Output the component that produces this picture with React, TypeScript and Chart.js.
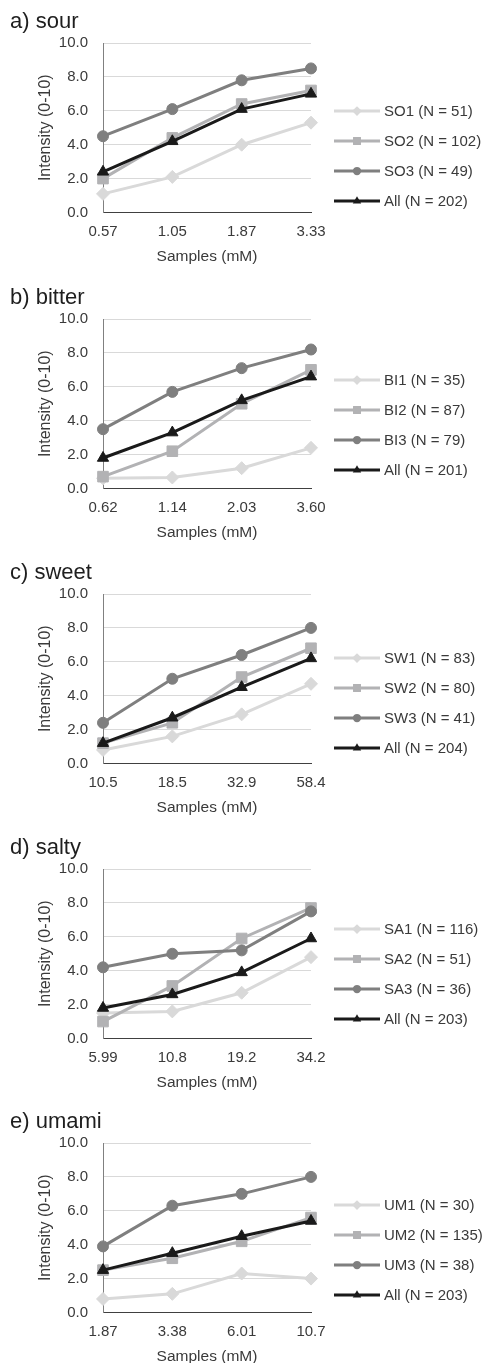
import React, { useEffect, useRef } from "react";
import { Chart, registerables } from "chart.js";

Chart.register(...registerables);

// ---- data ----
const sourDoses = ["0.57", "1.05", "1.87", "3.33"];
const sourLabels = ["SO1 (N = 51)", "SO2 (N = 102)", "SO3 (N = 49)", "All (N = 202)"];
const sourSO1 = [1.1, 2.1, 4.0, 5.3];
const sourSO2 = [2.0, 4.4, 6.4, 7.2];
const sourSO3 = [4.5, 6.1, 7.8, 8.5];
const sourAll = [2.4, 4.2, 6.1, 7.0];

const bitterDoses = ["0.62", "1.14", "2.03", "3.60"];
const bitterLabels = ["BI1 (N = 35)", "BI2 (N = 87)", "BI3 (N = 79)", "All (N = 201)"];
const bitterBI1 = [0.6, 0.65, 1.2, 2.4];
const bitterBI2 = [0.7, 2.2, 5.0, 7.0];
const bitterBI3 = [3.5, 5.7, 7.1, 8.2];
const bitterAll = [1.8, 3.3, 5.2, 6.6];

const sweetDoses = ["10.5", "18.5", "32.9", "58.4"];
const sweetLabels = ["SW1 (N = 83)", "SW2 (N = 80)", "SW3 (N = 41)", "All (N = 204)"];
const sweetSW1 = [0.8, 1.6, 2.9, 4.7];
const sweetSW2 = [1.2, 2.4, 5.1, 6.8];
const sweetSW3 = [2.4, 5.0, 6.4, 8.0];
const sweetAll = [1.2, 2.7, 4.5, 6.2];

const saltyDoses = ["5.99", "10.8", "19.2", "34.2"];
const saltyLabels = ["SA1 (N = 116)", "SA2 (N = 51)", "SA3 (N = 36)", "All (N = 203)"];
const saltySA1 = [1.5, 1.6, 2.7, 4.8];
const saltySA2 = [1.0, 3.1, 5.9, 7.7];
const saltySA3 = [4.2, 5.0, 5.2, 7.5];
const saltyAll = [1.8, 2.6, 3.9, 5.9];

const umamiDoses = ["1.87", "3.38", "6.01", "10.7"];
const umamiLabels = ["UM1 (N = 30)", "UM2 (N = 135)", "UM3 (N = 38)", "All (N = 203)"];
const umamiUM1 = [0.8, 1.1, 2.3, 2.0];
const umamiUM2 = [2.5, 3.2, 4.2, 5.6];
const umamiUM3 = [3.9, 6.3, 7.0, 8.0];
const umamiAll = [2.5, 3.5, 4.5, 5.4];

const panelTitles = ["a) sour", "b) bitter", "c) sweet", "d) salty", "e) umami"];
const xAxisTitle = "Samples (mM)";
const yAxisTitle = "Intensity (0-10)";
const yTicks = [0, 2, 4, 6, 8, 10];

type PanelSpec = {
  title: string;
  doses: string[];
  labels: string[];
  values: number[][];
};

const panels: PanelSpec[] = [
  { title: panelTitles[0], doses: sourDoses, labels: sourLabels, values: [sourSO1, sourSO2, sourSO3, sourAll] },
  { title: panelTitles[1], doses: bitterDoses, labels: bitterLabels, values: [bitterBI1, bitterBI2, bitterBI3, bitterAll] },
  { title: panelTitles[2], doses: sweetDoses, labels: sweetLabels, values: [sweetSW1, sweetSW2, sweetSW3, sweetAll] },
  { title: panelTitles[3], doses: saltyDoses, labels: saltyLabels, values: [saltySA1, saltySA2, saltySA3, saltyAll] },
  { title: panelTitles[4], doses: umamiDoses, labels: umamiLabels, values: [umamiUM1, umamiUM2, umamiUM3, umamiAll] },
];

// ---- styling / layout ----
const FONT = '"Liberation Sans", Arial, Helvetica, sans-serif';
const TEXT = "#3a3a3a";

type SeriesStyle = { color: string; point: "rectRot" | "rect" | "circle" | "triangle"; radius: number };
const seriesStyles: SeriesStyle[] = [
  { color: "#d9d9d9", point: "rectRot", radius: 6.5 },
  { color: "#b2b2b4", point: "rect", radius: 7.5 },
  { color: "#7f7f7f", point: "circle", radius: 5.5 },
  { color: "#1a1a1a", point: "triangle", radius: 6.5 },
];

const panelHeights = [276, 275, 275, 274, 275];
const legendTops = [68, 61, 64, 60, 62];

const PLOT_TOP = 43;
const PLOT_HEIGHT = 169.5;
const PLOT_LEFT = 103;
const PLOT_RIGHT = 311;
const PAD_LEFT = 30;
const CANVAS_W = 487;

function drawMarker(ctx: CanvasRenderingContext2D, kind: string, x: number, y: number, r: number) {
  ctx.beginPath();
  if (kind === "circle") {
    ctx.arc(x, y, r, 0, Math.PI * 2);
  } else if (kind === "rect") {
    const s = r * Math.SQRT1_2;
    ctx.rect(x - s, y - s, 2 * s, 2 * s);
  } else if (kind === "rectRot") {
    ctx.moveTo(x, y - r);
    ctx.lineTo(x + r, y);
    ctx.lineTo(x, y + r);
    ctx.lineTo(x - r, y);
    ctx.closePath();
  } else {
    ctx.moveTo(x, y - r);
    ctx.lineTo(x + r * 0.866, y + r * 0.5);
    ctx.lineTo(x - r * 0.866, y + r * 0.5);
    ctx.closePath();
  }
  ctx.fill();
}

function Panel({ spec, height, legendTop }: { spec: PanelSpec; height: number; legendTop: number }) {
  const ref = useRef<HTMLCanvasElement | null>(null);

  useEffect(() => {
    const canvas = ref.current;
    if (!canvas) return;

    const decor = {
      id: "panelDecor",
      afterDraw(chart: any) {
        const ctx: CanvasRenderingContext2D = chart.ctx;
        const area = chart.chartArea;
        ctx.save();
        // panel heading
        ctx.fillStyle = "#1e1e1e";
        ctx.font = `22px ${FONT}`;
        ctx.textAlign = "left";
        ctx.textBaseline = "alphabetic";
        ctx.fillText(spec.title, 10, area.top - 15);
        // legend: line + marker + label
        spec.labels.forEach((label, i) => {
          const st = seriesStyles[i];
          const y = area.top + legendTop + i * 30;
          ctx.strokeStyle = st.color;
          ctx.fillStyle = st.color;
          ctx.lineWidth = 3;
          ctx.beginPath();
          ctx.moveTo(334, y);
          ctx.lineTo(380, y);
          ctx.stroke();
          drawMarker(ctx, st.point, 357, y, st.radius * 0.75);
          ctx.fillStyle = TEXT;
          ctx.font = `15px ${FONT}`;
          ctx.textBaseline = "middle";
          ctx.fillText(label, 384, y + 1);
        });
        ctx.restore();
      },
    };

    const xHeight = height - PLOT_TOP - PLOT_HEIGHT;

    const chart = new Chart(canvas, {
      type: "line",
      data: {
        labels: spec.doses,
        datasets: spec.values.map((vals, i) => ({
          label: spec.labels[i],
          data: vals,
          borderColor: seriesStyles[i].color,
          backgroundColor: seriesStyles[i].color,
          pointBackgroundColor: seriesStyles[i].color,
          pointBorderColor: seriesStyles[i].color,
          pointBorderWidth: 1,
          pointStyle: seriesStyles[i].point,
          pointRadius: seriesStyles[i].radius,
          borderWidth: 3,
          tension: 0,
          fill: false,
          order: 4 - i,
        })),
      },
      options: {
        responsive: false,
        maintainAspectRatio: false,
        animation: false,
        devicePixelRatio: 1,
        layout: { padding: { left: PAD_LEFT, right: CANVAS_W - PLOT_RIGHT, top: PLOT_TOP, bottom: 0 } },
        plugins: {
          legend: { display: false },
          tooltip: { enabled: false },
          title: { display: false },
        },
        scales: {
          x: {
            type: "category",
            offset: false,
            grid: { display: false, drawTicks: false },
            border: { display: true, color: "#404040", width: 1 },
            ticks: {
              color: TEXT,
              font: { family: FONT, size: 15 },
              padding: 10,
              maxRotation: 0,
              autoSkip: false,
            },
            title: {
              display: true,
              text: xAxisTitle,
              color: TEXT,
              font: { family: FONT, size: 15.5 },
              padding: { top: 0, bottom: xHeight - 44.3 - 9.3 },
            },
            afterFit: (s: any) => {
              s.height = xHeight;
            },
          },
          y: {
            min: 0,
            max: 10,
            afterBuildTicks: (s: any) => {
              s.ticks = yTicks.map((v) => ({ value: v }));
            },
            grid: {
              drawTicks: false,
              color: (c: any) => (c.tick && c.tick.value === 0 ? "#404040" : "#d9d9d9"),
              lineWidth: 1,
            },
            border: { display: true, color: "#808080", width: 1 },
            ticks: {
              color: TEXT,
              font: { family: FONT, size: 15 },
              padding: 15,
              callback: (v: any) => Number(v).toFixed(1),
            },
            title: {
              display: true,
              text: yAxisTitle,
              color: TEXT,
              font: { family: FONT, size: 16 },
              padding: { top: 5.5, bottom: 0 },
            },
            afterFit: (s: any) => {
              s.width = PLOT_LEFT - PAD_LEFT;
            },
          },
        },
      },
      plugins: [decor],
    } as any);

    return () => chart.destroy();
  }, [spec, height, legendTop]);

  return (
    <div style={{ width: CANVAS_W, height, position: "relative" }}>
      <canvas ref={ref} width={CANVAS_W} height={height} style={{ display: "block" }} />
    </div>
  );
}

export default function App() {
  useEffect(() => {
    document.body.style.margin = "0";
    document.body.style.background = "#ffffff";
  }, []);
  return (
    <div style={{ position: "absolute", left: 0, top: 0, width: CANVAS_W, background: "#ffffff" }}>
      {panels.map((p, i) => (
        <Panel key={p.title} spec={p} height={panelHeights[i]} legendTop={legendTops[i]} />
      ))}
    </div>
  );
}
